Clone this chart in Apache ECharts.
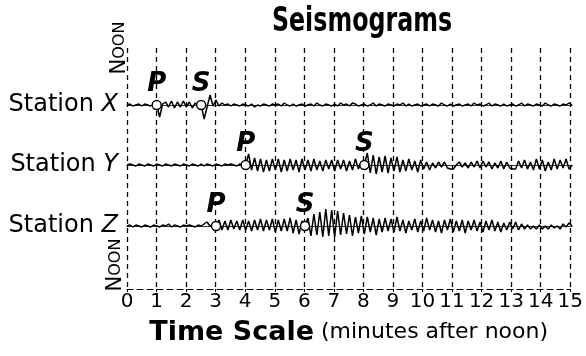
<!DOCTYPE html>
<html>
<head>
<meta charset="utf-8">
<script src="https://cdn.jsdelivr.net/npm/echarts@6/dist/echarts.min.js"></script>
<style>
  html, body { margin: 0; padding: 0; background: #fff; }
  #chart { width: 586px; height: 356px; }
</style>
</head>
<body>
<div id="chart"></div>
<script>
// minutes after noon, one sample every 0.1 min
const sampleStep = 0.1
const tickLabels = ['0','1','2','3','4','5','6','7','8','9','10','11','12','13','14','15']
const stations = ['X', 'Y', 'Z']
const pArrival = [1, 4, 3]
const sArrival = [2.5, 8, 6]

// trace amplitude (+ = up), one row per minute
const traceX = [
  0, 1, -1, 0, 1, -1, 1, 0, -1, 1,
  0, -12, 1, 3, -2, 4, -3, 3, -2, 4,
  -2, 3, -3, 2, -1, 0, -14, -2, 10, -1,
  5, -1, 2, 0, 1, -1, 1, 0, -1, 1,
  0, -1, 1, -2, 0, -1, 1, 0, -1, 1,
  0, 1, -1, 2, 0, -1, 1, -1, 0, 1,
  -1, 0, 1, -1, 2, 0, -1, 1, 0, -1,
  1, -1, 2, 0, 1, -1, 2, 1, -1, 0,
  1, -1, 0, 2, -1, 1, 0, -1, 1, 0,
  -1, 1, 0, 2, -1, 1, -1, 0, 1, -1,
  0, 1, -1, 1, 0, -1, 2, 0, -1, 1,
  -1, 0, 1, -1, 0, 1, -1, 2, 0, 1,
  -1, 0, 2, -1, 1, 0, -1, 1, -1, 0,
  1, -1, 0, 2, -1, 1, 0, -1, 1, 0,
  -1, 2, 0, -1, 1, 0, -1, 1, 0, 2,
  0
]
const traceY = [
  0, 1, 0, -1, 1, 0, -1, 1, 0, -1,
  1, 0, -1, 1, 0, -1, 1, 0, -1, 1,
  0, -1, 1, 0, -1, 1, -1, 1, 0, -1,
  1, 0, -1, 1, 0, 1, 0, -1, 1, 0,
  0, 11, -5, 7, -6, 6, -7, 5, -6, 6,
  -5, 6, -7, 5, -6, 6, -5, 5, -7, 6,
  -5, 5, -6, 6, -5, 4, -6, 5, -4, 5,
  -6, 5, -4, 5, -6, 4, -5, 6, -4, 3,
  0, 12, -8, 10, -9, 8, -7, 9, -8, 7,
  -6, 8, -7, 5, -6, 6, -5, 4, -7, 5,
  -4, 3, -5, 2, -3, 3, -2, 3, -3, -4,
  -4, 0, 3, -2, 2, -3, 3, -2, 4, -3,
  4, -2, 3, -4, 2, -3, 4, -4, 3, -3,
  -4, -4, 4, -3, 5, -4, 3, -5, 6, -4,
  5, -6, 3, -5, 6, -4, 5, -3, 6, -4,
  0
]
const traceZ = [
  0, 1, -1, 1, 0, -1, 1, 0, -1, 1,
  0, -1, 1, 0, 2, -1, 1, 0, -1, 1,
  0, 1, 0, -1, 1, 0, 2, 4, 0, 1,
  0, 6, -4, 5, -4, 6, -3, 5, -4, 6,
  -4, 5, -5, 6, -4, 7, -5, 6, -4, 7,
  -6, 6, -5, 7, -5, 8, -7, 6, -8, 5,
  0, 8, -10, 12, -9, 14, -11, 17, -10, 16,
  -11, 15, -9, 13, -8, 11, -10, 9, -7, 10,
  -8, 9, -6, 8, -9, 7, -6, 8, -5, 7,
  -6, 9, -5, 6, -7, 5, -4, 7, -6, 5,
  -5, 8, -4, 6, -6, 5, -7, 6, -4, 7,
  -6, 5, -5, 6, -7, 5, -4, 6, -5, 4,
  -6, 5, -4, 6, -5, 4, -6, 3, -4, 4,
  -3, 4, -4, 2, -3, 1, -3, 0, -3, 1,
  -3, 0, -3, 1, -2, 0, -3, 2, -1, 3,
  0
]
const traces = [traceX, traceY, traceZ]

const chart = echarts.init(document.getElementById('chart'))
const font = '"DejaVu Sans", sans-serif'
const baselines = [105, 165, 226]

let grids = [{ left: 127, right: 14, top: 48, bottom: 67 }]
let xAxes = [{
  type: 'value', gridIndex: 0, min: 0, max: 15, interval: 1,
  axisLine: { lineStyle: { color: '#000', type: [6, 4], width: 1.2 } },
  axisTick: { show: true, length: 3, lineStyle: { color: '#000' } },
  splitLine: { show: true, lineStyle: { color: '#000', type: [5, 4], width: 1.3 } },
  axisLabel: {
    color: '#000', fontSize: 20, fontFamily: font, margin: 3,
    formatter: v => tickLabels[v]
  },
  name: '{b|Time Scale}{n| (minutes after noon)}',
  nameLocation: 'middle', nameGap: 30,
  nameTextStyle: {
    rich: {
      b: { fontSize: 27, fontWeight: 'bold', fontFamily: font, color: '#000' },
      n: { fontSize: 22, fontFamily: font, color: '#000' }
    }
  }
}]
let yAxes = [{ type: 'value', gridIndex: 0, min: 0, max: 1, show: false }]
let series = []

stations.forEach((st, i) => {
  const g = i + 1
  grids.push({ left: 127, right: 14, top: baselines[i] - 20, height: 40 })
  xAxes.push({
    type: 'value', gridIndex: g, min: 0, max: 15,
    axisLine: { show: true, onZero: true, lineStyle: { color: '#000', width: 0.8 } },
    axisTick: { show: false }, axisLabel: { show: false }, splitLine: { show: false }
  })
  yAxes.push({
    type: 'value', gridIndex: g, min: -20, max: 20,
    axisLine: { show: false }, axisTick: { show: false },
    axisLabel: { show: false }, splitLine: { show: false },
    name: '{s|Station }{i|' + st + '}',
    nameLocation: 'middle', nameRotate: 0, nameGap: 9,
    nameTextStyle: {
      align: 'right',
      rich: {
        s: { fontSize: 24, fontFamily: font, color: '#000' },
        i: { fontSize: 24, fontFamily: font, fontStyle: 'italic', color: '#000' }
      }
    }
  })
  series.push({
    type: 'line', xAxisIndex: g, yAxisIndex: g,
    data: traces[i].map((v, k) => [k * sampleStep, v]),
    showSymbol: false, silent: true,
    lineStyle: { color: '#000', width: 1.5 }
  })
  series.push({
    type: 'scatter', xAxisIndex: g, yAxisIndex: g, z: 5,
    symbol: 'circle', symbolSize: 9,
    itemStyle: { color: '#fff', borderColor: '#000', borderWidth: 1.4, opacity: 1 },
    data: [
      { name: 'P', value: [pArrival[i], 0] },
      { name: 'S', value: [sArrival[i], 0] }
    ],
    label: {
      show: true, position: 'top', distance: 3,
      formatter: '{b}', color: '#000', fontSize: 26,
      fontWeight: 'bold', fontStyle: 'italic', fontFamily: font
    }
  })
})

const noonRich = {
  big: { fontSize: 21, fontFamily: font, color: '#000' },
  sm: { fontSize: 16, fontFamily: font, color: '#000' }
}

let option = {
  animation: false,
  backgroundColor: '#fff',
  grid: grids,
  xAxis: xAxes,
  yAxis: yAxes,
  series: series,
  graphic: [
    {
      type: 'text', x: 362, y: 22, scaleX: 0.8,
      style: {
        text: 'Seismograms', align: 'center', verticalAlign: 'middle',
        font: 'bold 33px "DejaVu Sans Condensed", "DejaVu Sans", sans-serif', fill: '#000'
      }
    },
    {
      type: 'text', x: 120, y: 48, rotation: Math.PI / 2,
      style: { text: '{big|N}{sm|OON}', rich: noonRich, align: 'center', verticalAlign: 'middle' }
    },
    {
      type: 'text', x: 116, y: 265, rotation: Math.PI / 2,
      style: { text: '{big|N}{sm|OON}', rich: noonRich, align: 'center', verticalAlign: 'middle' }
    }
  ]
}
chart.setOption(option)
window.addEventListener('resize', function() {
  chart.resize()
})
</script>
</body>
</html>
